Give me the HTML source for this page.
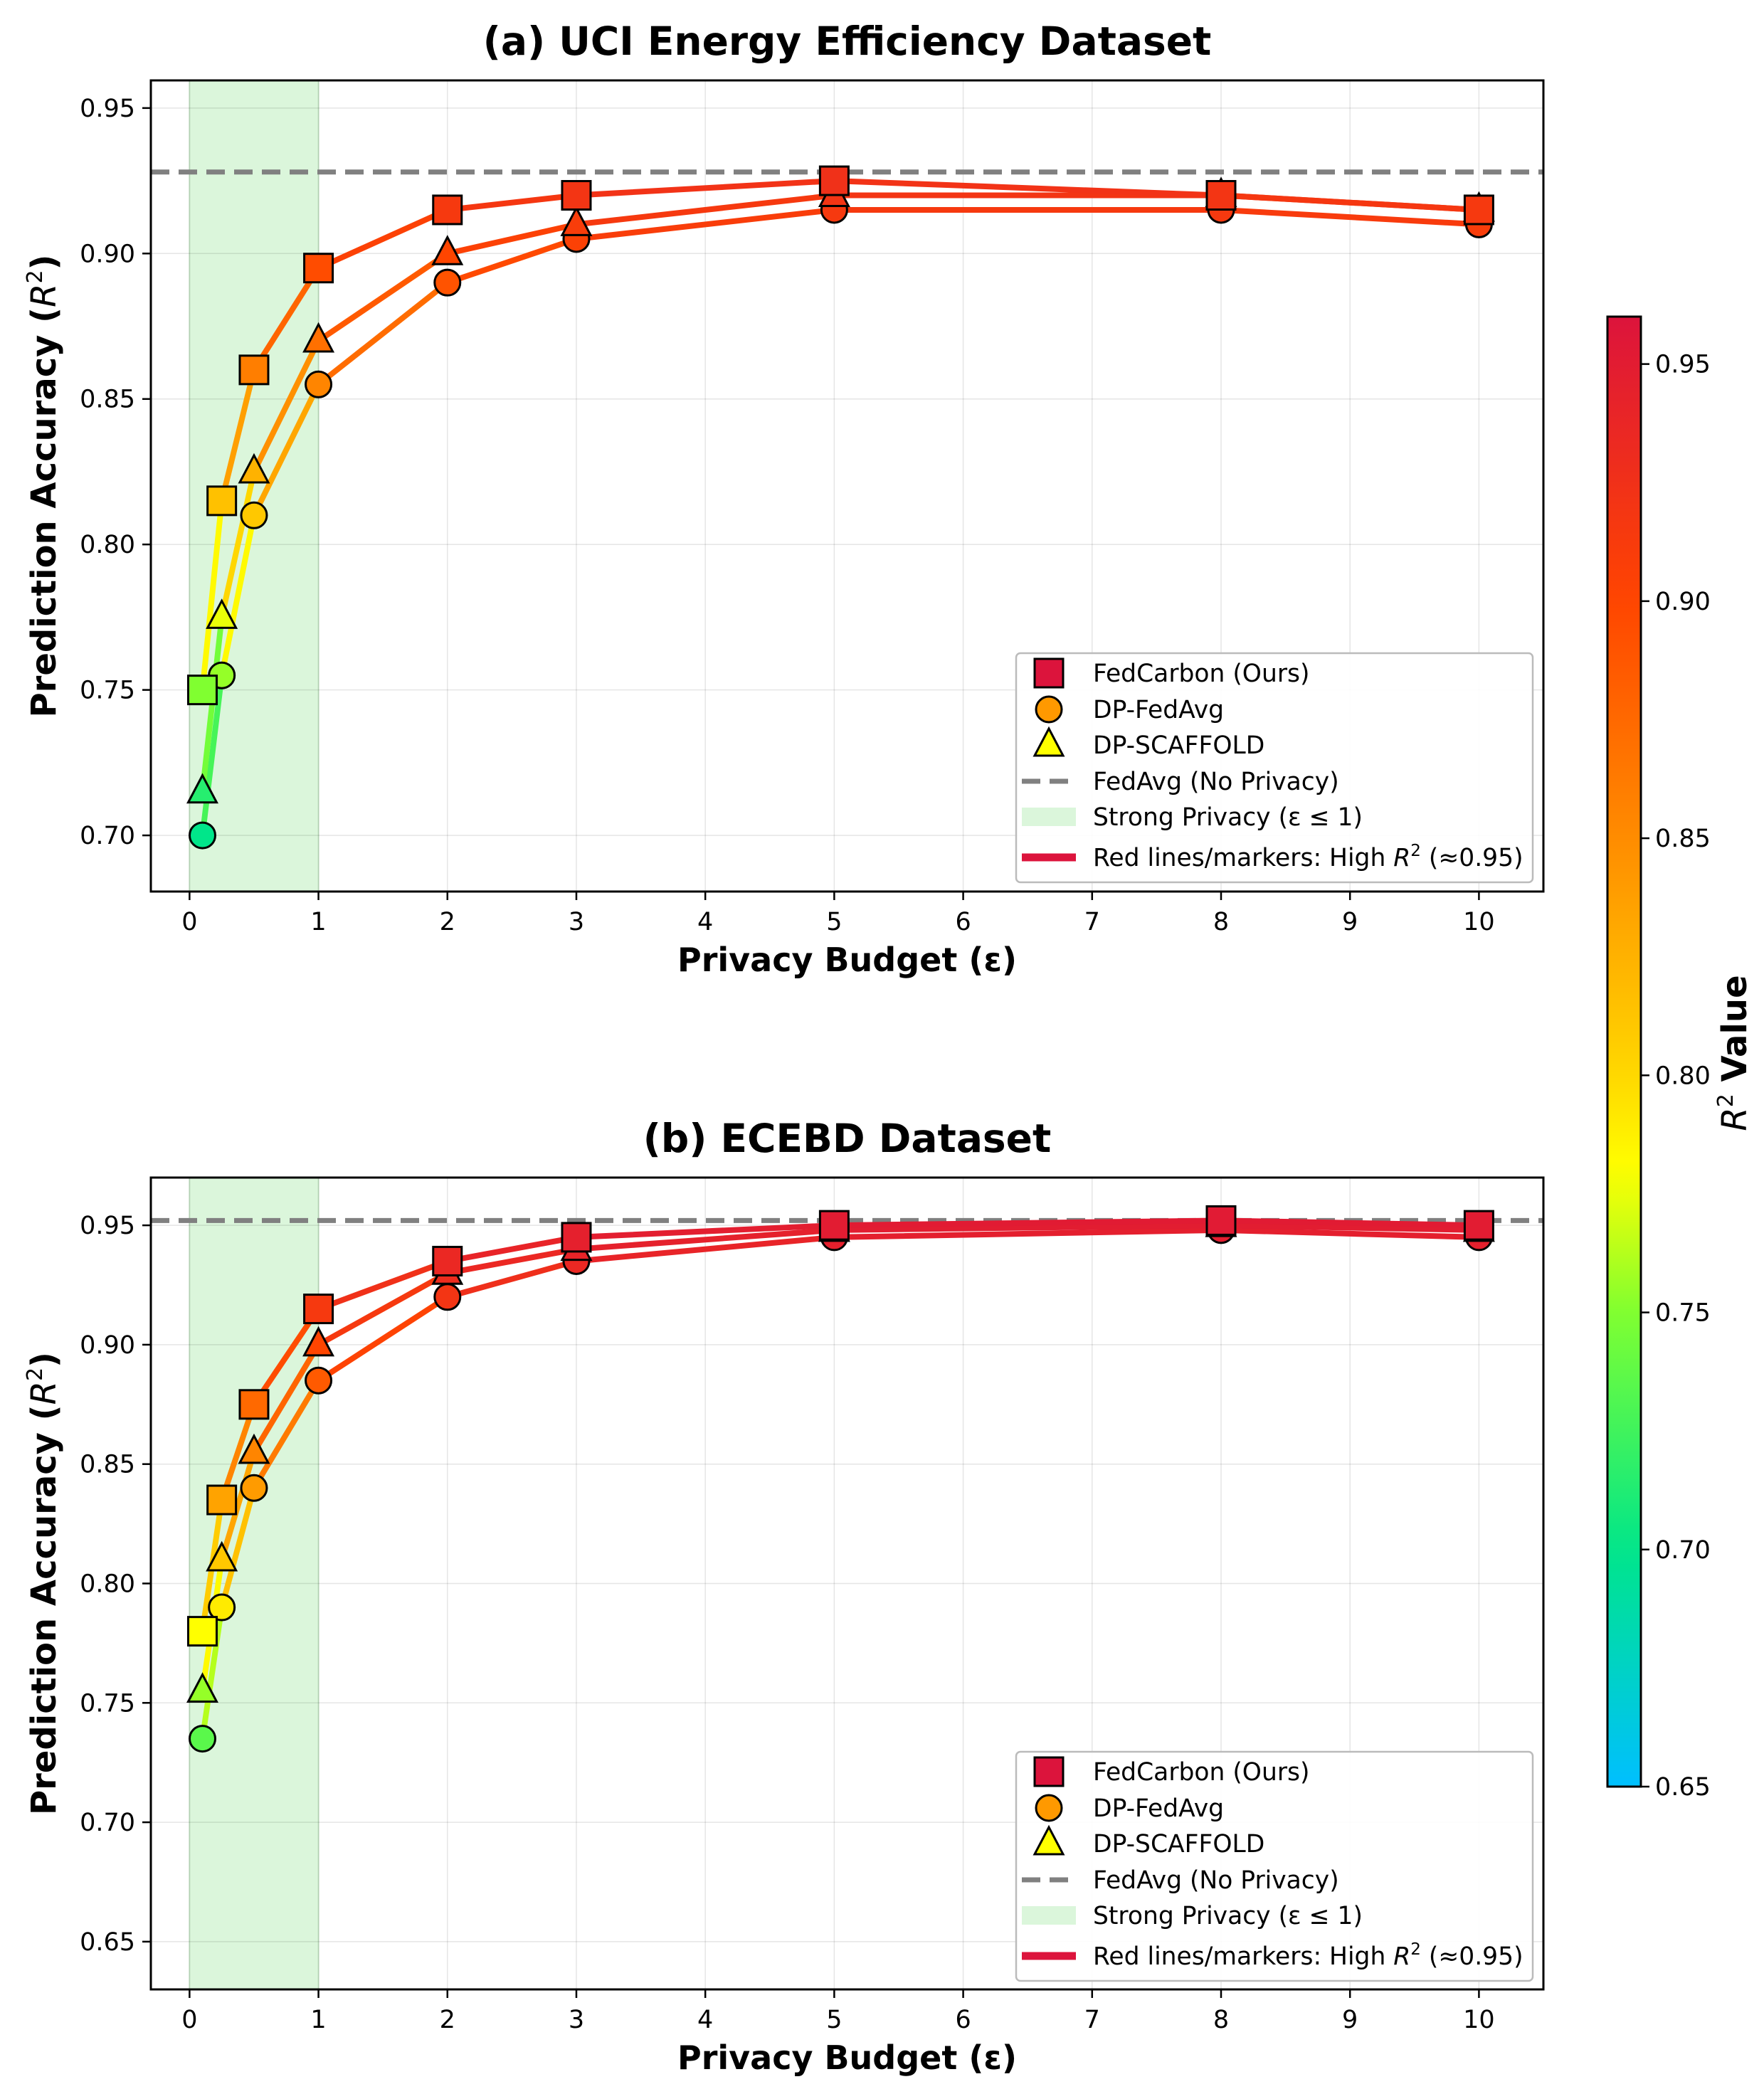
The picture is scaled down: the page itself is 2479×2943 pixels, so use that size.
<!DOCTYPE html>
<html><head><meta charset="utf-8">
<style>
html,body{margin:0;padding:0;background:#fff;}
svg{display:block;font-family:"DejaVu Sans","Liberation Sans",sans-serif;}
</style></head>
<body>
<svg id="fig" width="2479" height="2943" viewBox="0 0 2479 2943" xmlns="http://www.w3.org/2000/svg"></svg>
<script>
const epsValues = [0.1, 0.25, 0.5, 1, 2, 3, 5, 8, 10];
const xTicks = [0,1,2,3,4,5,6,7,8,9,10];
const uciFedCarbon = [0.75, 0.815, 0.86, 0.895, 0.915, 0.92, 0.925, 0.92, 0.915];
const uciFedAvg = [0.70, 0.755, 0.81, 0.855, 0.89, 0.905, 0.915, 0.915, 0.91];
const uciScaffold = [0.715, 0.775, 0.825, 0.87, 0.90, 0.91, 0.92, 0.92, 0.915];
const uciNoPrivacy = 0.928;
const uciYTicks = [0.70, 0.75, 0.80, 0.85, 0.90, 0.95];
const ecFedCarbon = [0.78, 0.835, 0.875, 0.915, 0.935, 0.945, 0.95, 0.952, 0.95];
const ecFedAvg = [0.735, 0.79, 0.84, 0.885, 0.92, 0.935, 0.945, 0.948, 0.945];
const ecScaffold = [0.755, 0.81, 0.855, 0.90, 0.93, 0.94, 0.948, 0.95, 0.948];
const ecNoPrivacy = 0.952;
const ecYTicks = [0.65, 0.70, 0.75, 0.80, 0.85, 0.90, 0.95];
const cbTicks = [0.65, 0.70, 0.75, 0.80, 0.85, 0.90, 0.95];

const NS = "http://www.w3.org/2000/svg";
const svg = document.getElementById('fig');
function mk(tag, attrs, parent, text) {
  const e = document.createElementNS(NS, tag);
  for (const k in attrs) e.setAttribute(k, attrs[k]);
  if (text !== undefined) e.textContent = text;
  (parent || svg).appendChild(e);
  return e;
}
const stops = [[0.65,[0,191,255]],[0.70,[0,230,138]],[0.75,[128,255,48]],[0.78,[255,255,0]],[0.80,[255,215,0]],[0.85,[255,140,0]],[0.90,[255,69,0]],[0.96,[220,20,60]]];
function cmap(v) {
  if (v <= stops[0][0]) v = stops[0][0];
  if (v >= stops[stops.length-1][0]) v = stops[stops.length-1][0];
  for (let i = 0; i < stops.length-1; i++) {
    const a = stops[i], b = stops[i+1];
    if (v >= a[0] && v <= b[0]) {
      const t = (v - a[0]) / (b[0] - a[0]);
      const c = a[1].map((x, j) => Math.round(x + (b[1][j] - x) * t));
      return `rgb(${c[0]},${c[1]},${c[2]})`;
    }
  }
  return 'rgb(220,20,60)';
}

function drawPanel(cfg) {
  const g = mk('g', {});
  
  
  const L = 212, R = 2169, T = cfg.top, B = cfg.bottom;
  const xMin = -0.3, xMax = 10.5;
  const sx = v => L + (v - xMin) / (xMax - xMin) * (R - L);
  const sy = v => B - (v - cfg.yMin) / (cfg.yMax - cfg.yMin) * (B - T);
  const sh = mk('rect', {x: sx(0), y: T, width: sx(1) - sx(0), height: B - T, fill: '#dbf6db', stroke: '#c8e8c8', 'stroke-width': 2}, g);
  
  
  xTicks.forEach(t => mk('line', {x1: sx(t), x2: sx(t), y1: T, y2: B, stroke: '#000', 'stroke-opacity': 0.1, 'stroke-width': 1.5}, g));
  cfg.yTicks.forEach(t => mk('line', {x1: L, x2: R, y1: sy(t), y2: sy(t), stroke: '#000', 'stroke-opacity': 0.1, 'stroke-width': 1.5}, g));
  const bl = mk('line', {x1: L, x2: R, y1: sy(cfg.noPriv), y2: sy(cfg.noPriv), stroke: '#808080', 'stroke-width': 7, 'stroke-dasharray': '26 13'}, g);
  
  
  const series = [[cfg.avg, 'circle', 'dp-fedavg'], [cfg.scaf, 'tri', 'dp-scaffold'], [cfg.fc, 'square', 'fedcarbon']];
  series.forEach(([vals, shape, nm]) => {
    const sg = mk('g', {}, g);
    
    
    for (let i = 0; i < vals.length - 1; i++) {
      mk('line', {x1: sx(epsValues[i]), y1: sy(vals[i]), x2: sx(epsValues[i+1]), y2: sy(vals[i+1]), stroke: cmap((vals[i] + vals[i+1]) / 2), 'stroke-width': 8, 'stroke-linecap': 'round'}, sg);
    }
  });
  series.forEach(([vals, shape, nm]) => {
    vals.forEach((v, i) => {
      const x = sx(epsValues[i]), y = sy(v), c = cmap(v);
      let m;
      if (shape === 'square') m = mk('rect', {x: x - 20, y: y - 20, width: 40, height: 40, fill: c, stroke: '#000', 'stroke-width': 3}, g);
      else if (shape === 'circle') m = mk('circle', {cx: x, cy: y, r: 18, fill: c, stroke: '#000', 'stroke-width': 3}, g);
      else m = mk('polygon', {points: `${x},${y - 23} ${x - 20},${y + 15} ${x + 20},${y + 15}`, fill: c, stroke: '#000', 'stroke-width': 3}, g);
      
      
    });
  });
  mk('rect', {x: L, y: T, width: R - L, height: B - T, fill: 'none', stroke: '#000', 'stroke-width': 3}, g);
  xTicks.forEach(t => {
    mk('line', {x1: sx(t), x2: sx(t), y1: B, y2: B + 12, stroke: '#000', 'stroke-width': 2.5}, g);
    const tl = mk('text', {x: sx(t), y: B + 54, 'text-anchor': 'middle', 'font-size': 35, fill: '#000'}, g, String(t));
    
    
  });
  cfg.yTicks.forEach(t => {
    mk('line', {x1: L - 12, x2: L, y1: sy(t), y2: sy(t), stroke: '#000', 'stroke-width': 2.5}, g);
    const tl = mk('text', {x: L - 22, y: sy(t) + 12, 'text-anchor': 'end', 'font-size': 35, fill: '#000'}, g, t.toFixed(2));
    
    
  });
  const ti = mk('text', {x: (L + R) / 2, y: T - 36, 'text-anchor': 'middle', 'font-size': 55, 'font-weight': 'bold'}, g, cfg.title);
  
  
  const xl = mk('text', {x: (L + R) / 2, y: B + 112, 'text-anchor': 'middle', 'font-size': 46, 'font-weight': 'bold'}, g, 'Privacy Budget (ε)');
  
  
  const ycy = (T + B) / 2;
  const yl = mk('text', {x: 0, y: 0, transform: `translate(78,${ycy}) rotate(-90)`, 'text-anchor': 'middle', 'font-size': 48, 'font-weight': 'bold'}, g);
  
  
  yl.innerHTML = 'Prediction Accuracy (<tspan font-style="italic" font-weight="normal">R</tspan><tspan font-size="30" dy="-19" font-weight="normal">2</tspan><tspan dy="19">)</tspan>';
  const lg = mk('g', {}, g);
  
  
  const lx = 1428, ly = cfg.legTop, lw = 726, lh = 322;
  mk('rect', {x: lx, y: ly, width: lw, height: lh, rx: 6, fill: '#fff', 'fill-opacity': 0.9, stroke: '#bbb', 'stroke-width': 2.5}, lg);
  const rowY = [28, 79, 129, 180, 230, 287].map(d => ly + d);
  const items = ['FedCarbon (Ours)', 'DP-FedAvg', 'DP-SCAFFOLD', 'FedAvg (No Privacy)', 'Strong Privacy (ε ≤ 1)'];
  const hx = 1474;
  mk('rect', {x: hx - 20, y: rowY[0] - 20, width: 40, height: 40, fill: '#dc143c', stroke: '#000', 'stroke-width': 3}, lg);
  mk('circle', {cx: hx, cy: rowY[1], r: 18, fill: '#ff9900', stroke: '#000', 'stroke-width': 3}, lg);
  mk('polygon', {points: `${hx},${rowY[2] - 23} ${hx - 20},${rowY[2] + 15} ${hx + 20},${rowY[2] + 15}`, fill: '#ffff00', stroke: '#000', 'stroke-width': 3}, lg);
  mk('line', {x1: hx - 38, x2: hx + 38, y1: rowY[3], y2: rowY[3], stroke: '#808080', 'stroke-width': 7, 'stroke-dasharray': '26 13'}, lg);
  mk('rect', {x: hx - 38, y: rowY[4] - 13, width: 76, height: 26, fill: '#dbf6db'}, lg);
  mk('line', {x1: hx - 38, x2: hx + 38, y1: rowY[5], y2: rowY[5], stroke: '#dc143c', 'stroke-width': 11}, lg);
  items.forEach((t, i) => {
    const e = mk('text', {x: 1536, y: rowY[i] + 12, 'font-size': 34.5}, lg, t);
    
    
  });
  const last = mk('text', {x: 1536, y: rowY[5] + 12, 'font-size': 34.5}, lg);
  
  
  last.innerHTML = 'Red lines/markers: High <tspan font-style="italic">R</tspan><tspan font-size="23" dy="-14">2</tspan><tspan dy="14"> (≈0.95)</tspan>';
}

drawPanel({name: 'panel-a-uci', title: '(a) UCI Energy Efficiency Dataset', top: 113, bottom: 1253, yMin: 0.6807, yMax: 0.9595, yTicks: uciYTicks, fc: uciFedCarbon, avg: uciFedAvg, scaf: uciScaffold, noPriv: uciNoPrivacy, legTop: 918});
drawPanel({name: 'panel-b-ecebd', title: '(b) ECEBD Dataset', top: 1655, bottom: 2796, yMin: 0.630, yMax: 0.970, yTicks: ecYTicks, fc: ecFedCarbon, avg: ecFedAvg, scaf: ecScaffold, noPriv: ecNoPrivacy, legTop: 2462});

const cb = mk('g', {});


const cbL = 2259, cbR = 2306, cbT = 445, cbB = 2511, cbMin = 0.65, cbMax = 0.96;
const cy = v => cbB - (v - cbMin) / (cbMax - cbMin) * (cbB - cbT);
const defs = mk('defs', {}, cb);
const grad = mk('linearGradient', {id: 'cbgrad', x1: 0, y1: 1, x2: 0, y2: 0}, defs);
for (let i = 0; i <= 40; i++) {
  const v = cbMin + (cbMax - cbMin) * i / 40;
  mk('stop', {offset: (i / 40).toFixed(3), 'stop-color': cmap(v)}, grad);
}
mk('rect', {x: cbL, y: cbT, width: cbR - cbL, height: cbB - cbT, fill: 'url(#cbgrad)', stroke: '#000', 'stroke-width': 3}, cb);
cbTicks.forEach(t => {
  mk('line', {x1: cbR, x2: cbR + 12, y1: cy(t), y2: cy(t), stroke: '#000', 'stroke-width': 2.5}, cb);
  const e = mk('text', {x: cbR + 20, y: cy(t) + 12, 'font-size': 35}, cb, t.toFixed(2));
  
  
});
const cbl = mk('text', {x: 0, y: 0, transform: `translate(2454,1480) rotate(-90)`, 'text-anchor': 'middle', 'font-size': 48, 'font-weight': 'bold'}, cb);


cbl.innerHTML = '<tspan font-style="italic" font-weight="normal">R</tspan><tspan font-size="30" dy="-19" font-weight="normal">2</tspan><tspan dy="19"> Value</tspan>';
</script>
</body></html>
